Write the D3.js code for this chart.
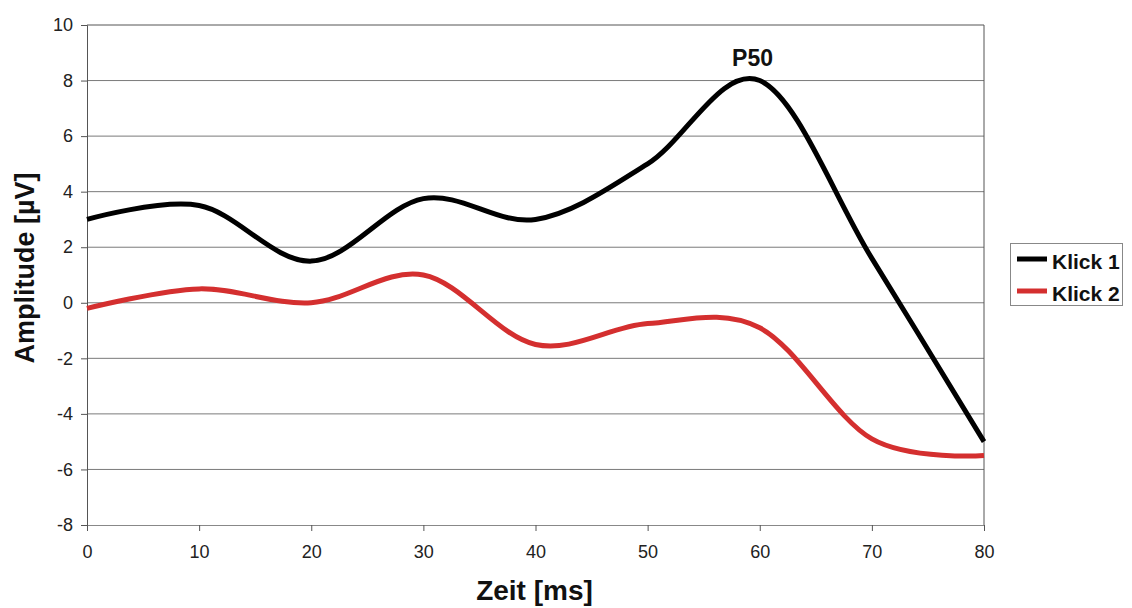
<!DOCTYPE html>
<html>
<head>
<meta charset="utf-8">
<script src="https://cdn.jsdelivr.net/npm/d3@7"></script>
<style>
  html, body { margin: 0; padding: 0; background: #fff; }
  svg { display: block; font-family: "Liberation Sans", Arial, sans-serif; }
</style>
</head>
<body>
<svg id="chart" width="1132" height="608"></svg>
<script>
// Time axis (ms) and amplitudes (µV) for both click responses
const zeit = [0, 10, 20, 30, 40, 50, 60, 70, 80];
const klick1 = [3.0, 3.5, 1.5, 3.75, 3.0, 5.0, 8.0, 1.6, -5.0];
const klick2 = [-0.2, 0.5, 0.0, 1.0, -1.5, -0.75, -0.9, -4.9, -5.5];
const seriesNames = ["Klick 1", "Klick 2"];
const seriesColors = ["#000000", "#d42f2f"];
const xTicks = [0, 10, 20, 30, 40, 50, 60, 70, 80];
const yTicks = [-8, -6, -4, -2, 0, 2, 4, 6, 8, 10];
const peakLabel = { text: "P50", t: 59, a: 8.1 };

const svg = d3.select("#chart");
const plotLeft = 87, plotRight = 984, plotTop = 25, plotBottom = 525;

const x = d3.scaleLinear().domain([0, 80]).range([plotLeft, plotRight]);
const y = d3.scaleLinear().domain([-8, 10]).range([plotBottom, plotTop]);

// plain hyphen for negative numbers
const fmt = d => String(d);

// horizontal grid lines
svg.append("g")
  .selectAll("line")
  .data(yTicks.filter(v => v > -8 && v < 10))
  .join("line")
  .attr("x1", plotLeft).attr("x2", plotRight)
  .attr("y1", d => y(d)).attr("y2", d => y(d))
  .attr("stroke", "#7a7a7a").attr("stroke-width", 1);

// plot frame: top and right edges
svg.append("path")
  .attr("d", `M${plotLeft},${y(10)}H${plotRight}V${plotBottom}`)
  .attr("fill", "none").attr("stroke", "#555").attr("stroke-width", 1);

// y axis
const yAxis = svg.append("g")
  .attr("transform", `translate(${plotLeft},0)`)
  .call(d3.axisLeft(y).tickValues(yTicks).tickSize(6).tickPadding(8).tickFormat(fmt));
yAxis.select(".domain").attr("stroke", "#555");
yAxis.selectAll(".tick line").attr("stroke", "#555");
yAxis.selectAll(".tick text")
  .attr("font-size", 18).attr("fill", "#222")
  .attr("font-family", "Liberation Sans, Arial, sans-serif");

// x axis
const xAxis = svg.append("g")
  .attr("transform", `translate(0,${plotBottom})`)
  .call(d3.axisBottom(x).tickValues(xTicks).tickSize(6).tickPadding(14).tickFormat(fmt));
xAxis.select(".domain").attr("stroke", "#888");
xAxis.selectAll(".tick line").attr("stroke", "#555");
xAxis.selectAll(".tick text")
  .attr("font-size", 18).attr("fill", "#222")
  .attr("font-family", "Liberation Sans, Arial, sans-serif");

// smoothed response curves
const line = d3.line()
  .x((d, i) => x(zeit[i]))
  .y(d => y(d))
  .curve(d3.curveCardinal.tension(0));

// Klick 2 first so Klick 1 stays on top
const drawOrder = [1, 0];
const seriesData = [klick1, klick2];
drawOrder.forEach(idx => {
  svg.append("path")
    .datum(seriesData[idx])
    .attr("d", line)
    .attr("fill", "none")
    .attr("stroke", seriesColors[idx])
    .attr("stroke-width", 5)
    .attr("stroke-linejoin", "round");
});

// peak annotation
svg.append("text")
  .attr("x", x(peakLabel.t) + 4)
  .attr("y", y(peakLabel.a) - 12)
  .attr("text-anchor", "middle")
  .attr("font-size", 23).attr("font-weight", "bold").attr("fill", "#111")
  .text(peakLabel.text);

// axis titles
svg.append("text")
  .attr("x", (plotLeft + plotRight) / 2 - 1)
  .attr("y", 600)
  .attr("text-anchor", "middle")
  .attr("font-size", 28).attr("font-weight", "bold").attr("fill", "#111")
  .text("Zeit [ms]");

svg.append("text")
  .attr("transform", "translate(34,268) rotate(-90)")
  .attr("text-anchor", "middle")
  .attr("font-size", 27).attr("font-weight", "bold").attr("fill", "#111")
  .text("Amplitude [µV]");

// legend
const lg = svg.append("g");
lg.append("rect")
  .attr("x", 1010.5).attr("y", 243.5).attr("width", 112).attr("height", 62)
  .attr("fill", "#fff").attr("stroke", "#888").attr("stroke-width", 1);
seriesNames.forEach((name, i) => {
  const cy = 259 + i * 32;
  lg.append("line")
    .attr("x1", 1017).attr("x2", 1047).attr("y1", cy).attr("y2", cy)
    .attr("stroke", seriesColors[i]).attr("stroke-width", 5);
  lg.append("text")
    .attr("x", 1052).attr("y", cy + 10)
    .attr("font-size", 21).attr("font-weight", "bold").attr("fill", "#111")
    .text(name);
});
</script>
</body>
</html>
